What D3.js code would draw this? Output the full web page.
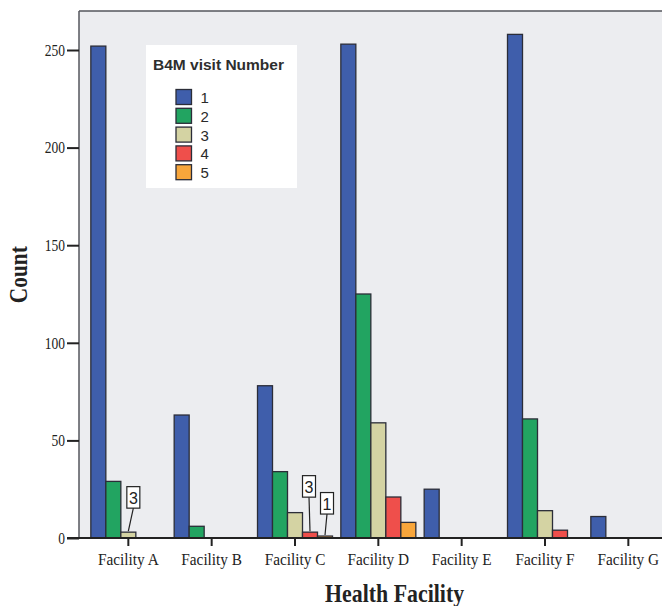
<!DOCTYPE html>
<html><head><meta charset="utf-8">
<script src="https://cdn.jsdelivr.net/npm/d3@7"></script>
<style>body{margin:0;background:#fff;} svg{display:block;}</style>
</head><body>
<script>
const categories = ["Facility A","Facility B","Facility C","Facility D","Facility E","Facility F","Facility G"];
const seriesNames = ["1","2","3","4","5"];
const visit1 = [252, 63, 78, 253, 25, 258, 11];
const visit2 = [29, 6, 34, 125, 0, 61, 0];
const visit3 = [3, 0, 13, 59, 0, 14, 0];
const visit4 = [0, 0, 3, 21, 0, 4, 0];
const visit5 = [0, 0, 1, 8, 0, 0, 0];
const yTicks = [0, 50, 100, 150, 200, 250];
const callouts = [
  {cat:"Facility A", series:"3", text:"3", dx:5, dy:-24},
  {cat:"Facility C", series:"4", text:"3", dx:-1, dy:-35},
  {cat:"Facility C", series:"5", text:"1", dx:2, dy:-22}
];
const colors = ["#3f5eab","#22a461","#d4d3a3","#ef4f4b","#f8a63b"];
const allSeries = [visit1, visit2, visit3, visit4, visit5];

const W = 662, H = 606;
const svg = d3.select("body").append("svg").attr("width", W).attr("height", H);

const plotL = 79, plotT = 11, plotR = 662, plotB = 538;
const y = d3.scaleLinear().domain([0, 250]).range([plotB, 50]);
const x0 = d3.scaleBand().domain(categories).range([86.67, 670]).padding(0);
const x1 = d3.scaleBand().domain(seriesNames).range([4.17, 79.17]).padding(0);

// plot background
svg.append("rect").attr("x", plotL).attr("y", plotT).attr("width", plotR - plotL + 5).attr("height", plotB - plotT)
  .attr("fill", "#ecedf0");
svg.append("line").attr("x1", plotL).attr("x2", W).attr("y1", plotT).attr("y2", plotT).attr("stroke", "#55565c").attr("stroke-width", 1.5);
svg.append("line").attr("x1", plotL).attr("x2", plotL).attr("y1", plotT).attr("y2", plotB).attr("stroke", "#55565c").attr("stroke-width", 1.5);

// bars
const data = [];
categories.forEach((c, i) => seriesNames.forEach((s, j) => {
  const v = allSeries[j][i];
  if (v > 0) data.push({cat: c, s: s, v: v, color: colors[j]});
}));
svg.append("g").selectAll("rect").data(data).join("rect")
  .attr("x", d => x0(d.cat) + x1(d.s))
  .attr("y", d => y(d.v))
  .attr("width", x1.bandwidth())
  .attr("height", d => y(0) - y(d.v))
  .attr("fill", d => d.color)
  .attr("stroke", "#2b2d38").attr("stroke-width", 1.3);

// y axis
const ySx = 0.82;
const yAxis = d3.axisLeft(y).tickValues(yTicks).tickSize(12).tickPadding(2);
const gy = svg.append("g").attr("transform", `translate(${plotL},0)`).call(yAxis);
gy.select(".domain").remove();
gy.selectAll(".tick line").attr("stroke", "#222").attr("stroke-width", 2);
gy.selectAll(".tick text").attr("font-family", "Liberation Serif, serif").attr("font-size", 16.5).attr("fill", "#222")
  .attr("x", -14 / ySx).attr("transform", `scale(${ySx},1)`);

// x axis
const xSx = 0.9;
const xAxis = d3.axisBottom(x0).tickSize(8).tickPadding(7);
const gx = svg.append("g").attr("transform", `translate(0,${plotB})`).call(xAxis);
gx.select(".domain").remove();
gx.selectAll(".tick line").attr("stroke", "#222").attr("stroke-width", 2);
gx.selectAll(".tick text").attr("font-family", "Liberation Serif, serif").attr("font-size", 17).attr("fill", "#222")
  .attr("transform", `scale(${xSx},1)`);
svg.append("line").attr("x1", 67).attr("x2", W).attr("y1", plotB).attr("y2", plotB).attr("stroke", "#222").attr("stroke-width", 2);

// callouts
callouts.forEach(c => {
  const j = seriesNames.indexOf(c.series);
  const i = categories.indexOf(c.cat);
  const v = allSeries[j][i];
  const bx = x0(c.cat) + x1(c.series) + x1.bandwidth() / 2;
  const by = y(v);
  const cx = bx + c.dx, cy = by + c.dy;
  const g = svg.append("g");
  g.append("line").attr("x1", cx).attr("y1", cy).attr("x2", bx).attr("y2", by - 1).attr("stroke", "#222").attr("stroke-width", 1.2);
  g.append("rect").attr("x", cx - 6.5).attr("y", cy - 21.5).attr("width", 13).attr("height", 21.5)
    .attr("fill", "#fff").attr("stroke", "#222").attr("stroke-width", 1.2);
  g.append("text").attr("x", cx).attr("y", cy - 4.5).attr("text-anchor", "middle")
    .attr("font-family", "Liberation Sans, Arial, sans-serif").attr("font-size", 16).attr("fill", "#222").text(c.text);
});

// legend
const lg = svg.append("g");
lg.append("rect").attr("x", 146).attr("y", 45).attr("width", 151).attr("height", 143).attr("fill", "#fff");
lg.append("text").attr("x", 153).attr("y", 69.5).attr("font-family", "Liberation Sans, Arial, sans-serif")
  .attr("font-size", 15).attr("font-weight", "bold").attr("fill", "#2e2e2e")
  .attr("textLength", 131).attr("lengthAdjust", "spacingAndGlyphs").text("B4M visit Number");
seriesNames.forEach((s, j) => {
  const yy = 89.5 + j * 18.8;
  lg.append("rect").attr("x", 176).attr("y", yy).attr("width", 15.5).attr("height", 15)
    .attr("fill", colors[j]).attr("stroke", "#2b2d38").attr("stroke-width", 1.3);
  lg.append("text").attr("x", 200.5).attr("y", yy + 13.5).attr("font-family", "Liberation Sans, Arial, sans-serif")
    .attr("font-size", 15).attr("fill", "#2a2a2a").text(s);
});

// axis titles
svg.append("text").attr("transform", "translate(26.5,274.7) rotate(-90)").attr("text-anchor", "middle")
  .attr("font-family", "Liberation Serif, serif").attr("font-weight", "bold").attr("font-size", 25).attr("fill", "#222")
  .attr("textLength", 57).attr("lengthAdjust", "spacingAndGlyphs").text("Count");
svg.append("text").attr("x", 394.6).attr("y", 601.7).attr("text-anchor", "middle")
  .attr("font-family", "Liberation Serif, serif").attr("font-weight", "bold").attr("font-size", 25).attr("fill", "#222")
  .attr("textLength", 139).attr("lengthAdjust", "spacingAndGlyphs").text("Health Facility");
</script>
</body></html>
